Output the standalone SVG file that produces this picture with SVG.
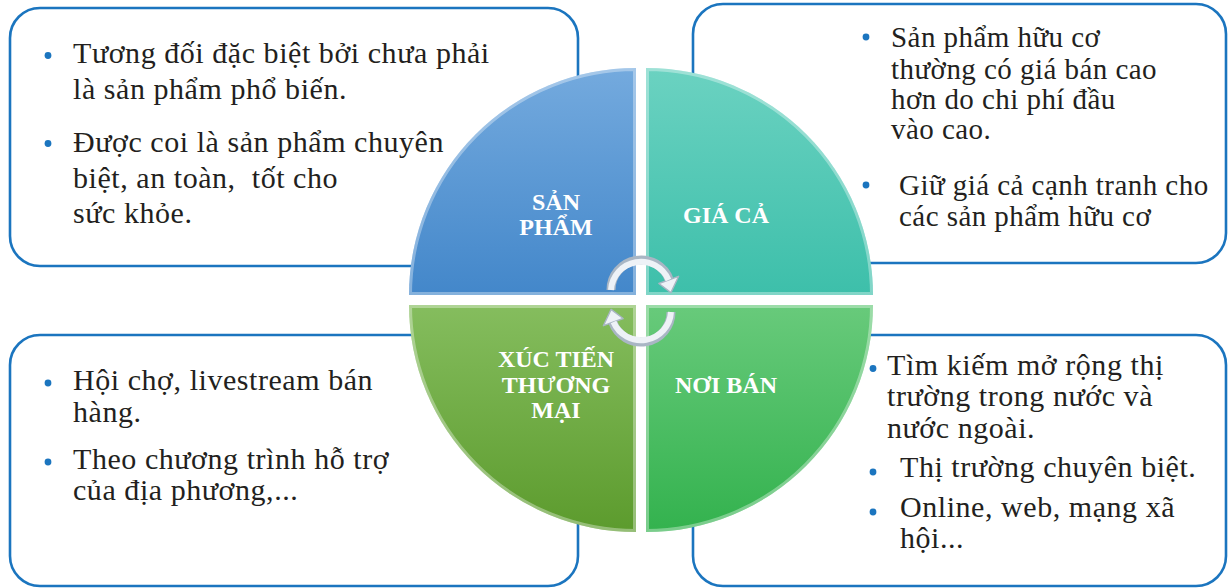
<svg xmlns="http://www.w3.org/2000/svg" width="1228" height="588" viewBox="0 0 1228 588">
<style>
.box{fill:#ffffff;stroke:#1b75bf;stroke-width:2.6}
.txt{font-family:"Liberation Serif","Times New Roman",serif;font-size:30px;letter-spacing:0.55px;fill:#231f20;white-space:pre}
.sm{font-size:29px;letter-spacing:0.45px}
.dot{fill:#1b75bf}
.lbl{font-family:"Liberation Serif","Times New Roman",serif;font-size:24px;font-weight:bold;fill:#ffffff;text-anchor:middle}
.rim{fill:none;stroke:#ffffff;stroke-opacity:0.35;stroke-width:6}
.arrBg{fill:none;stroke:#a9b6c4;stroke-width:9}
.arrFg{fill:none;stroke:#eef2f7;stroke-width:6}
.head{fill:#eef2f7;stroke:#a9b6c4;stroke-width:1.4;stroke-linejoin:round}
</style>
<defs>
<linearGradient id="gBlue" x1="0" y1="0" x2="0" y2="1"><stop offset="0" stop-color="#74aade"/><stop offset="1" stop-color="#4387ca"/></linearGradient>
<linearGradient id="gTeal" x1="0" y1="0" x2="0" y2="1"><stop offset="0" stop-color="#6bd2c1"/><stop offset="1" stop-color="#3dbfaa"/></linearGradient>
<linearGradient id="gLime" x1="0" y1="0" x2="0" y2="1"><stop offset="0" stop-color="#85bd5e"/><stop offset="1" stop-color="#5c9b2d"/></linearGradient>
<linearGradient id="gGreen" x1="0" y1="0" x2="0" y2="1"><stop offset="0" stop-color="#68ca7b"/><stop offset="1" stop-color="#33b24e"/></linearGradient>
<clipPath id="cTL"><path d="M636,295 L409,295 A227,227 0 0 1 636,68 Z"/></clipPath>
<clipPath id="cTR"><path d="M646,295 L646,68 A227,227 0 0 1 873,295 Z"/></clipPath>
<clipPath id="cBR"><path d="M646,305 L873,305 A227,227 0 0 1 646,532 Z"/></clipPath>
<clipPath id="cBL"><path d="M636,305 L636,532 A227,227 0 0 1 409,305 Z"/></clipPath>
</defs>
<rect width="1228" height="588" fill="#ffffff"/>

<g id="box-san-pham">
<rect class="box" x="10" y="8" width="568" height="258" rx="30"/>
<circle class="dot" cx="48" cy="55.5" r="3.4"/>
<text class="txt" x="73" y="62.5">Tương đối đặc biệt bởi chưa phải</text>
<text class="txt" x="73" y="99">là sản phẩm phổ biến.</text>
<circle class="dot" cx="48" cy="143.5" r="3.4"/>
<text class="txt" x="73" y="152">Được coi là sản phẩm chuyên</text>
<text class="txt" x="73" y="187.5">biệt, an toàn,  tốt cho</text>
<text class="txt" x="73" y="223">sức khỏe.</text>
</g>

<g id="box-gia-ca">
<rect class="box" x="693" y="4" width="533" height="259" rx="30"/>
<circle class="dot" cx="866" cy="37" r="3.4"/>
<text class="txt sm" x="891" y="47">Sản phẩm hữu cơ</text>
<text class="txt sm" x="891" y="79">thường có giá bán cao</text>
<text class="txt sm" x="891" y="109">hơn do chi phí đầu</text>
<text class="txt sm" x="891" y="139">vào cao.</text>
<circle class="dot" cx="866" cy="185" r="3.4"/>
<text class="txt sm" x="899" y="195">Giữ giá cả cạnh tranh cho</text>
<text class="txt sm" x="899" y="226">các sản phẩm hữu cơ</text>
</g>

<g id="box-xuc-tien">
<rect class="box" x="10" y="335" width="568" height="251" rx="30"/>
<circle class="dot" cx="48" cy="383" r="3.4"/>
<text class="txt" x="73" y="389.5">Hội chợ, livestream bán</text>
<text class="txt" x="73" y="421.5">hàng.</text>
<circle class="dot" cx="48" cy="462" r="3.4"/>
<text class="txt" x="73" y="469">Theo chương trình hỗ trợ</text>
<text class="txt" x="73" y="500">của địa phương,...</text>
</g>

<g id="box-noi-ban">
<rect class="box" x="693" y="335" width="533" height="251" rx="30"/>
<circle class="dot" cx="873" cy="368.5" r="3.4"/>
<text class="txt" x="887" y="374.5">Tìm kiếm mở rộng thị</text>
<text class="txt" x="887" y="405.5">trường trong nước và</text>
<text class="txt" x="887" y="438">nước ngoài.</text>
<circle class="dot" cx="873" cy="472" r="3.4"/>
<text class="txt" x="900" y="477">Thị trường chuyên biệt.</text>
<circle class="dot" cx="873" cy="512" r="3.4"/>
<text class="txt" x="900" y="517">Online, web, mạng xã</text>
<text class="txt" x="900" y="548">hội...</text>
</g>

<g id="node-san-pham">
<path d="M636,295 L409,295 A227,227 0 0 1 636,68 Z" fill="url(#gBlue)"/>
<path class="rim" clip-path="url(#cTL)" d="M636,295 L409,295 A227,227 0 0 1 636,68 Z"/>
<text class="lbl" x="556" y="210">SẢN</text>
<text class="lbl" x="556" y="235">PHẨM</text>
</g>
<g id="node-gia-ca">
<path d="M646,295 L646,68 A227,227 0 0 1 873,295 Z" fill="url(#gTeal)"/>
<path class="rim" clip-path="url(#cTR)" d="M646,295 L646,68 A227,227 0 0 1 873,295 Z"/>
<text class="lbl" x="726" y="223">GIÁ CẢ</text>
</g>
<g id="node-noi-ban">
<path d="M646,305 L873,305 A227,227 0 0 1 646,532 Z" fill="url(#gGreen)"/>
<path class="rim" clip-path="url(#cBR)" d="M646,305 L873,305 A227,227 0 0 1 646,532 Z"/>
<text class="lbl" x="726" y="393">NƠI BÁN</text>
</g>
<g id="node-xuc-tien">
<path d="M636,305 L636,532 A227,227 0 0 1 409,305 Z" fill="url(#gLime)"/>
<path class="rim" clip-path="url(#cBL)" d="M636,305 L636,532 A227,227 0 0 1 409,305 Z"/>
<text class="lbl" x="556" y="367">XÚC TIẾN</text>
<text class="lbl" x="556" y="393">THƯƠNG</text>
<text class="lbl" x="556" y="418">MẠI</text>
</g>

<g id="connectors">
<path class="arrBg" d="M611,290 A30,30 0 0 1 669.2,279.7"/>
<polygon class="head" points="658.85,283.5 678.6,276.3 670.9,292.6"/>
<path class="arrFg" d="M611,290 A30,30 0 0 1 668.5,280"/>
<path class="arrBg" d="M671,312 A30,30 0 0 1 612.8,322.3"/>
<polygon class="head" points="623.15,318.5 603.4,325.7 611.1,309.4"/>
<path class="arrFg" d="M671,312 A30,30 0 0 1 613.5,322"/>
</g>
</svg>
